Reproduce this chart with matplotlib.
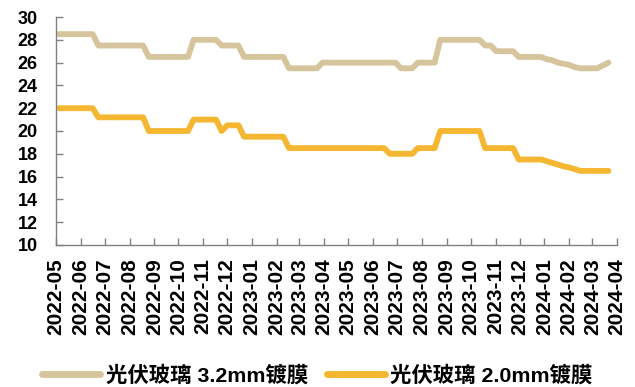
import matplotlib
matplotlib.use("Agg")
import matplotlib.pyplot as plt
import matplotlib.dates as mdates
import pandas as pd

plt.rcParams['font.family'] = ['Liberation Sans', 'Noto Sans CJK SC']
plt.rcParams['font.weight'] = 'bold'

# 周度价格（元/平方米），自 2022-05-05 起每周四
weeks = pd.date_range('2022-05-05', periods=99, freq='7D')

glass_32 = [
    28.5, 28.5, 28.5, 28.5, 28.5, 28.5, 28.5,
    27.5, 27.5, 27.5, 27.5, 27.5, 27.5, 27.5, 27.5, 27.5,
    26.5, 26.5, 26.5, 26.5, 26.5, 26.5, 26.5, 26.5,
    28.0, 28.0, 28.0, 28.0, 28.0,
    27.5, 27.5, 27.5, 27.5,
    26.5, 26.5, 26.5, 26.5, 26.5, 26.5, 26.5, 26.5,
    25.5, 25.5, 25.5, 25.5, 25.5, 25.5,
    26.0, 26.0, 26.0, 26.0, 26.0, 26.0, 26.0, 26.0, 26.0, 26.0, 26.0, 26.0, 26.0, 26.0,
    25.5, 25.5, 25.5,
    26.0, 26.0, 26.0, 26.0,
    28.0, 28.0, 28.0, 28.0, 28.0, 28.0, 28.0, 28.0,
    27.5, 27.5,
    27.0, 27.0, 27.0, 27.0,
    26.5, 26.5, 26.5, 26.5, 26.5,
    26.3, 26.2, 26.0, 25.9, 25.8, 25.6, 25.5,
    25.5, 25.5, 25.5,
    25.75, 26.0,
]

glass_20 = [
    22.0, 22.0, 22.0, 22.0, 22.0, 22.0, 22.0,
    21.2, 21.2, 21.2, 21.2, 21.2, 21.2, 21.2, 21.2, 21.2,
    20.0, 20.0, 20.0, 20.0, 20.0, 20.0, 20.0, 20.0,
    21.0, 21.0, 21.0, 21.0, 21.0,
    20.0,
    20.5, 20.5, 20.5,
    19.5, 19.5, 19.5, 19.5, 19.5, 19.5, 19.5, 19.5,
    18.5, 18.5, 18.5, 18.5, 18.5, 18.5, 18.5, 18.5, 18.5,
    18.5, 18.5, 18.5, 18.5, 18.5, 18.5, 18.5, 18.5, 18.5,
    18.0, 18.0, 18.0, 18.0, 18.0,
    18.5, 18.5, 18.5, 18.5,
    20.0, 20.0, 20.0, 20.0, 20.0, 20.0, 20.0, 20.0,
    18.5, 18.5, 18.5, 18.5, 18.5, 18.5,
    17.5, 17.5, 17.5, 17.5, 17.5,
    17.35, 17.2, 17.05, 16.9, 16.8, 16.65, 16.5,
    16.5, 16.5, 16.5, 16.5, 16.5,
]

fig = plt.figure(figsize=(6.35, 3.87), dpi=100)
ax = fig.add_axes([0.088, 0.367, 0.884, 0.589])

ax.plot(weeks, glass_32, color='#D6C49C', lw=4.2, solid_capstyle='round',
        solid_joinstyle='round', label='光伏玻璃 3.2mm镀膜')
ax.plot(weeks, glass_20, color='#F5B731', lw=4.2, solid_capstyle='round',
        solid_joinstyle='round', label='光伏玻璃 2.0mm镀膜')

ax.set_ylim(10, 30)
ax.set_yticks(range(10, 31, 2))
ax.set_xlim(pd.Timestamp('2022-05-01'), pd.Timestamp('2024-04-01'))
ax.xaxis.set_major_locator(mdates.MonthLocator())
ax.xaxis.set_major_formatter(mdates.DateFormatter('%Y-%m'))

for s in ['top', 'right']:
    ax.spines[s].set_visible(False)
for s in ['left', 'bottom']:
    ax.spines[s].set_color('#808080')
    ax.spines[s].set_linewidth(1)

ax.tick_params(axis='both', direction='in', length=5, color='#808080', width=1)
ax.tick_params(axis='x', labelsize=15, rotation=90, pad=9.5)
ax.tick_params(axis='y', labelsize=13, pad=13)
fig.canvas.draw()
plt.setp(ax.get_xticklabels() + ax.get_yticklabels(), fontweight='bold')

leg = fig.legend(loc='center', bbox_to_anchor=(0.5, 0.031), ncol=2,
                 frameon=False, handlelength=2.7, handletextpad=0.25,
                 columnspacing=0.9, borderpad=0,
                 prop={'weight': 'bold', 'size': 15.4})
for h in leg.get_lines():
    h.set_linewidth(5)

fig.savefig('out.png', dpi=100)
